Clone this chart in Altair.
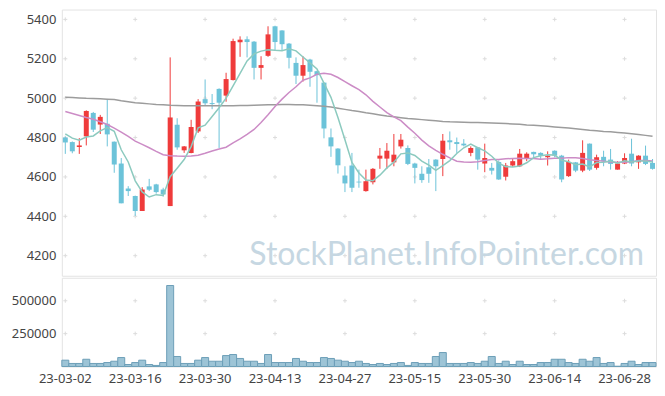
import altair as alt
import pandas as pd

dates = [
    "23-03-02", "23-03-03", "23-03-06", "23-03-07", "23-03-08", "23-03-09", "23-03-10",
    "23-03-13", "23-03-14", "23-03-15", "23-03-16", "23-03-17", "23-03-20", "23-03-21",
    "23-03-22", "23-03-23", "23-03-24", "23-03-27", "23-03-28", "23-03-29", "23-03-30",
    "23-03-31", "23-04-03", "23-04-04", "23-04-05", "23-04-06", "23-04-07", "23-04-10",
    "23-04-11", "23-04-12", "23-04-13", "23-04-14", "23-04-17", "23-04-18", "23-04-19",
    "23-04-20", "23-04-21", "23-04-24", "23-04-25", "23-04-26", "23-04-27", "23-04-28",
    "23-05-02", "23-05-03", "23-05-04", "23-05-08", "23-05-09", "23-05-10", "23-05-11",
    "23-05-12", "23-05-15", "23-05-16", "23-05-17", "23-05-18", "23-05-19", "23-05-22",
    "23-05-23", "23-05-24", "23-05-25", "23-05-26", "23-05-30", "23-05-31", "23-06-01",
    "23-06-02", "23-06-05", "23-06-07", "23-06-08", "23-06-09", "23-06-12", "23-06-13",
    "23-06-14", "23-06-15", "23-06-16", "23-06-19", "23-06-20", "23-06-21", "23-06-22",
    "23-06-23", "23-06-26", "23-06-27", "23-06-28", "23-06-29", "23-06-30", "23-07-03",
    "23-07-04",
]

opens = [
    4800, 4777, 4752, 4806, 4925, 4866, 4870, 4779, 4668, 4541,
    4503, 4427, 4552, 4562, 4536, 4452, 4865, 4735, 4722, 4831,
    4995, 4975, 5047, 5013, 5092, 5284, 5299, 5287, 5154, 5215,
    5365, 5344, 5277, 5179, 5114, 5196, 5137, 5079, 4801, 4744,
    4607, 4658, 4576, 4528, 4573, 4693, 4693, 4674, 4755, 4747,
    4668, 4616, 4649, 4688, 4691, 4786, 4777, 4769, 4722, 4750,
    4668, 4646, 4676, 4601, 4658, 4654, 4696, 4727, 4722, 4700,
    4733, 4708, 4604, 4674, 4632, 4769, 4646, 4702, 4688, 4637,
    4668, 4718, 4674, 4708, 4671,
]
closes = [
    4775, 4730, 4760, 4935, 4840, 4905, 4816, 4663, 4466, 4528,
    4427, 4536, 4535, 4523, 4511, 4902, 4750, 4755, 4853, 4983,
    4974, 4970, 4977, 5097, 5290, 5297, 5285, 5154, 5168, 5324,
    5285, 5274, 5205, 5114, 5168, 5134, 5117, 4846, 4755, 4659,
    4567, 4545, 4572, 4578, 4641, 4708, 4733, 4713, 4789, 4666,
    4646, 4584, 4616, 4654, 4784, 4776, 4767, 4760, 4747, 4688,
    4696, 4632, 4587, 4658, 4680, 4718, 4718, 4715, 4708, 4708,
    4708, 4587, 4676, 4632, 4722, 4637, 4700, 4680, 4666, 4668,
    4696, 4668, 4708, 4666, 4641,
]
highs = [
    4805, 4780, 4797, 4938, 4930, 4915, 4996, 4780, 4696, 4553,
    4505, 4548, 4590, 4565, 4545, 5207, 4898, 4757, 4890, 4995,
    5095, 5021, 5050, 5129, 5302, 5314, 5314, 5290, 5213, 5365,
    5368, 5345, 5280, 5207, 5213, 5200, 5140, 5080, 4846, 4746,
    4654, 4722, 4637, 4637, 4645, 4747, 4772, 4818, 4818, 4760,
    4672, 4654, 4691, 4690, 4818, 4831, 4800, 4792, 4755, 4752,
    4769, 4671, 4684, 4671, 4691, 4742, 4725, 4728, 4725, 4730,
    4735, 4712, 4688, 4676, 4786, 4770, 4713, 4733, 4742, 4680,
    4720, 4794, 4710, 4759, 4691,
]
lows = [
    4717, 4720, 4717, 4760, 4828, 4818, 4755, 4621, 4466, 4503,
    4402, 4427, 4528, 4515, 4500, 4452, 4738, 4722, 4720, 4823,
    4961, 4944, 4747, 4982, 5090, 5210, 5207, 5095, 5095, 5210,
    5240, 5240, 5151, 5072, 5084, 5058, 4977, 4796, 4702, 4617,
    4523, 4523, 4545, 4525, 4562, 4641, 4641, 4654, 4744, 4660,
    4567, 4570, 4570, 4528, 4604, 4738, 4722, 4755, 4705, 4637,
    4624, 4612, 4585, 4582, 4651, 4650, 4680, 4696, 4690, 4658,
    4700, 4573, 4600, 4624, 4624, 4630, 4637, 4654, 4637, 4637,
    4665, 4654, 4641, 4660, 4637,
]
volumes = [
    48000, 23000, 23000, 55000, 23000, 23000, 30000, 40000, 68000, 15000,
    30000, 48000, 15000, 8000, 30000, 616000, 76000, 23000, 23000, 48000,
    68000, 40000, 40000, 83000, 91000, 61000, 40000, 40000, 23000, 91000,
    30000, 30000, 30000, 61000, 40000, 30000, 30000, 68000, 61000, 48000,
    40000, 30000, 40000, 23000, 15000, 23000, 15000, 23000, 30000, 8000,
    30000, 23000, 23000, 76000, 106000, 23000, 23000, 23000, 30000, 23000,
    40000, 76000, 23000, 40000, 15000, 40000, 15000, 15000, 30000, 30000,
    55000, 55000, 30000, 23000, 55000, 40000, 68000, 23000, 30000, 2000,
    23000, 40000, 15000, 30000, 30000,
]
ma5 = [
    4819, 4797, 4786, 4803, 4808, 4834, 4851, 4832, 4738, 4676,
    4580, 4524, 4498, 4510, 4506, 4601, 4644, 4688, 4754, 4849,
    4863, 4907, 4951, 5000, 5062, 5126, 5189, 5225, 5239, 5246,
    5243, 5241, 5251, 5240, 5209, 5179, 5148, 5076, 5004, 4902,
    4789, 4674, 4620, 4584, 4581, 4609, 4646, 4675, 4717, 4722,
    4709, 4680, 4660, 4633, 4657, 4683, 4719, 4748, 4767, 4748,
    4732, 4705, 4670, 4652, 4651, 4655, 4672, 4698, 4708, 4713,
    4711, 4685, 4677, 4662, 4665, 4651, 4673, 4674, 4681, 4670,
    4682, 4676, 4681, 4681, 4676,
]
ma20 = [
    4932, 4922, 4912, 4902, 4893, 4880, 4866, 4848, 4828, 4806,
    4782, 4765, 4748, 4730, 4713, 4708, 4706, 4705, 4706, 4710,
    4720, 4732, 4742, 4751, 4773, 4793, 4816, 4841, 4876, 4916,
    4958, 4995, 5029, 5058, 5091, 5103, 5121, 5126, 5121, 5105,
    5084, 5063, 5043, 5017, 4984, 4955, 4927, 4905, 4886, 4853,
    4822, 4787, 4758, 4735, 4715, 4697, 4680, 4676, 4675, 4677,
    4683, 4688, 4688, 4692, 4694, 4695, 4694, 4694, 4690, 4692,
    4695, 4695, 4698, 4697, 4694, 4687, 4684, 4680, 4676, 4675,
    4675, 4677, 4683, 4683, 4681,
]
ma_long = [
    5005, 5003, 5001, 4999, 4998, 4997, 4995, 4993, 4987, 4982,
    4977, 4974, 4971, 4968, 4966, 4964, 4963, 4962, 4961, 4961,
    4961, 4961, 4961, 4962, 4962, 4963, 4963, 4964, 4965, 4966,
    4967, 4968, 4968, 4967, 4966, 4964, 4962, 4959, 4955, 4949,
    4943, 4937, 4932, 4926, 4921, 4915, 4909, 4905, 4901, 4897,
    4894, 4891, 4888, 4885, 4882, 4880, 4879, 4878, 4877, 4876,
    4875, 4874, 4873, 4871, 4869, 4867, 4864, 4862, 4860, 4857,
    4854, 4851, 4848, 4845, 4841, 4837, 4834, 4831, 4829, 4826,
    4823, 4819, 4815, 4811, 4806,
]

price_ticks = [4200, 4400, 4600, 4800, 5000, 5200, 5400]
volume_ticks = [250000, 500000]
label_dates = [dates[i] for i in range(0, len(dates), 10)]
watermark = "StockPlanet.InfoPointer.com"

df = pd.DataFrame({
    "date": dates, "open": opens, "close": closes, "high": highs, "low": lows,
    "volume": volumes, "ma5": ma5, "ma20": ma20, "malong": ma_long,
})
df["dir"] = ["up" if c >= o else "down" for o, c in zip(opens, closes)]

grid_price = pd.DataFrame([(d, v) for d in label_dates for v in price_ticks], columns=["date", "v"])
grid_vol = pd.DataFrame([(d, v) for d in label_dates for v in volume_ticks], columns=["date", "v"])

xscale = alt.Scale(domain=dates, paddingInner=0, paddingOuter=0)
x_top = alt.X("date:O", sort=dates, scale=xscale, axis=None)
x_bot = alt.X("date:O", sort=dates, scale=xscale,
              axis=alt.Axis(values=label_dates, labelAngle=0, title=None, labelOverlap=False))

pscale = alt.Scale(domain=[4098, 5450], nice=False, zero=False)
p_axis = alt.Axis(values=price_ticks, title=None, format="d")
color = alt.Color("dir:N", scale=alt.Scale(domain=["up", "down"], range=["#ef3b3b", "#6cc3d9"]), legend=None)

plus = "M-1,0L1,0M0,-1L0,1"
cross_top = alt.Chart(grid_price).mark_point(shape=plus, size=16, filled=False, stroke="#dcdcdc",
                                             strokeWidth=1, opacity=1).encode(
    x=x_top, y=alt.Y("v:Q", scale=pscale, axis=p_axis))

wm = alt.Chart(pd.DataFrame({"t": [watermark]})).mark_text(
    font="Lato", fontSize=32, color="#c6d7e2", align="right", baseline="middle"
).encode(text="t:N", x=alt.value(584), y=alt.value(246))

base = alt.Chart(df)
wick = base.mark_rule(strokeWidth=1).encode(x=x_top, y=alt.Y("low:Q", scale=pscale, axis=p_axis), y2="high:Q", color=color)
body = base.mark_bar(size=5).encode(x=x_top, y=alt.Y("open:Q", scale=pscale), y2="close:Q", color=color)
l_long = base.mark_line(color="#9c9c9c", strokeWidth=1.5).encode(x=x_top, y=alt.Y("malong:Q", scale=pscale))
l_20 = base.mark_line(color="#cc8cc6", strokeWidth=1.5).encode(x=x_top, y=alt.Y("ma20:Q", scale=pscale))
l_5 = base.mark_line(color="#8ccabf", strokeWidth=1.5).encode(x=x_top, y=alt.Y("ma5:Q", scale=pscale))

upper = alt.layer(cross_top, wm, wick, body, l_long, l_20, l_5).properties(width=596, height=267)

vscale = alt.Scale(domain=[0, 675000], nice=False)
v_axis = alt.Axis(values=volume_ticks, title=None, format="d")
cross_bot = alt.Chart(grid_vol).mark_point(shape=plus, size=16, filled=False, stroke="#dcdcdc",
                                           strokeWidth=1, opacity=1).encode(
    x=x_bot, y=alt.Y("v:Q", scale=vscale, axis=v_axis))
vol = base.mark_bar(fill="#9dc4d6", stroke="#6c9fb8", strokeWidth=1).encode(
    x=x_bot, y=alt.Y("volume:Q", scale=vscale, axis=v_axis))
lower = alt.layer(cross_bot, vol).properties(width=596, height=89)

chart = alt.vconcat(upper, lower, spacing=0).properties(
    padding={"left": 10, "top": 8, "right": 8, "bottom": 5}
).configure_view(stroke="#e3e3e3", strokeWidth=1).configure_axis(
    labelFont="Noto Sans", labelFontSize=13, labelColor="#444", ticks=False, tickSize=0,
    domain=False, grid=False, labelPadding=6
)

chart.save("out.html", embed_options={"renderer": "svg", "actions": False})
